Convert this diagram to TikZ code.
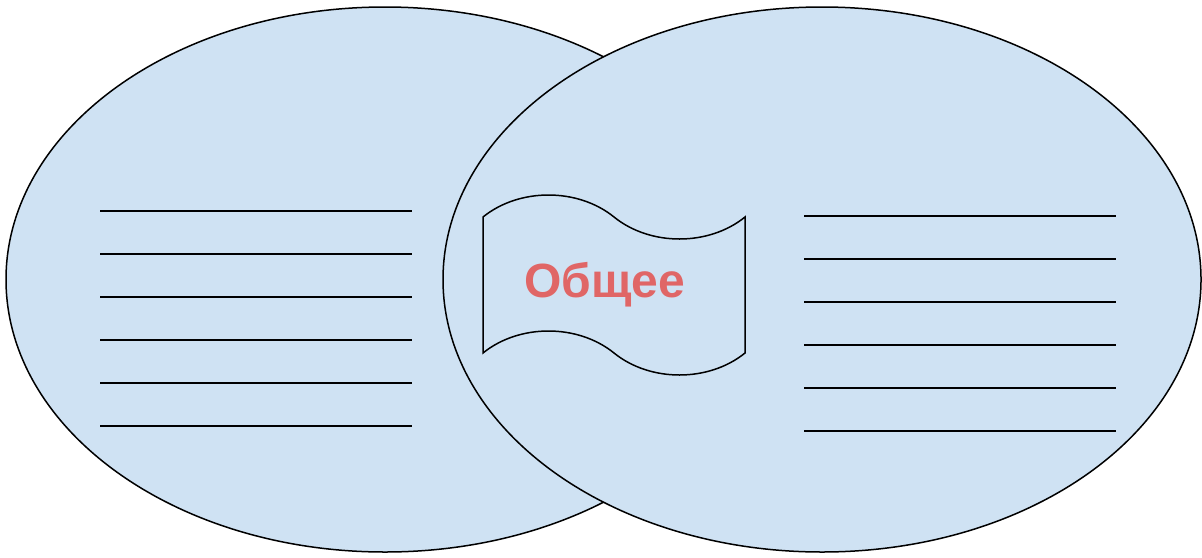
\documentclass[tikz,border=0pt]{standalone}
\usepackage{fontspec}
\setmainfont{Liberation Sans}
\usetikzlibrary{shapes.geometric, shapes.symbols}
\definecolor{vennblue}{HTML}{CFE2F3}
\definecolor{commonred}{HTML}{E06666}
\begin{document}
\begin{tikzpicture}[x=0.5pt, y=-0.5pt,
	set/.style={draw, ellipse, fill=vennblue, line width=0.75pt, inner sep=0pt, minimum width=379pt, minimum height=272.5pt},
	flag/.style={draw, tape, fill=vennblue, line width=0.75pt, tape bend top=out and in, tape bend bottom=out and in, tape bend height=22pt, minimum width=131pt, minimum height=90pt, text width=90pt, align=left, text=commonred, font=\fontsize{24}{28}\selectfont\bfseries},
	blank/.style={line width=1pt}]

	\useasboundingbox (0,0) rectangle (1202,557);

	\node [set] (A) at (385,279.5) {};
	\node [set] (B) at (822,279.5) {};
	\node [flag] (C) at (614,285) {\raisebox{2.5pt}{Общее}};

	\foreach \i in {0,...,5} {
		\draw [blank] (100,210.7+43*\i) -- (412,210.7+43*\i);
		\draw [blank] (804,216+43*\i) -- (1116,216+43*\i);
	}

\end{tikzpicture}
\end{document}
